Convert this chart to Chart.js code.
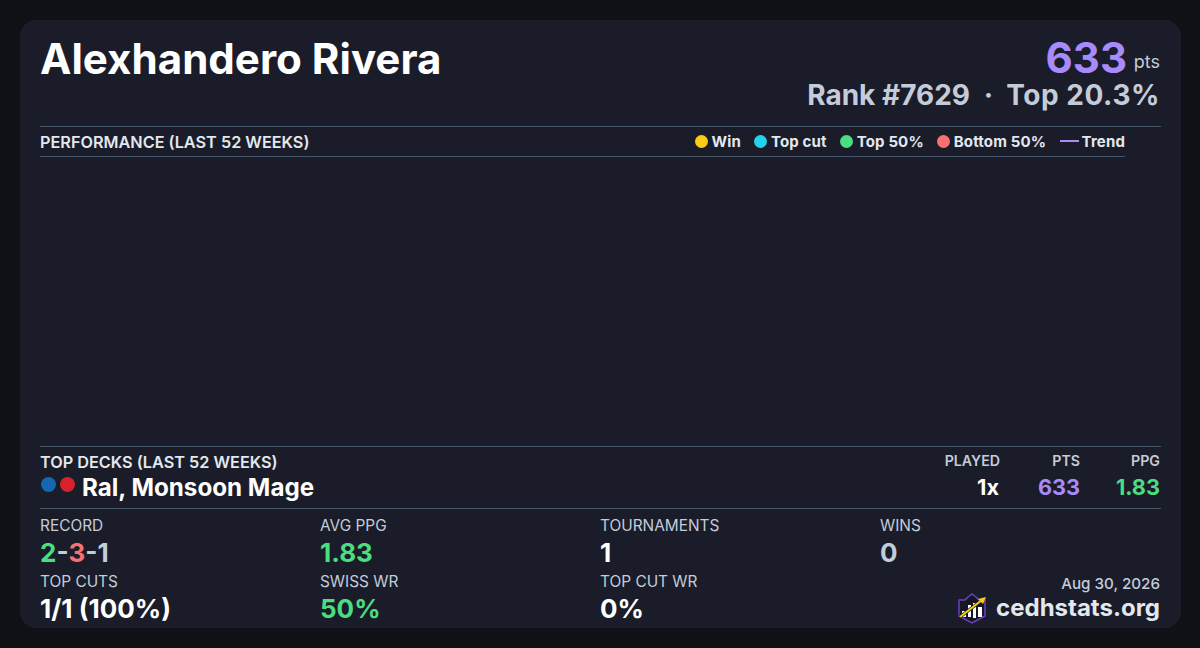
<!DOCTYPE html>
<html>
<head>
<meta charset="utf-8">
<script src="https://cdn.jsdelivr.net/npm/chart.js@4"></script>
<style>
html, body { margin: 0; padding: 0; }
body { width: 1200px; height: 648px; background: #0f1117; font-family: Inter, sans-serif; overflow: hidden; position: relative; }
#card { position: absolute; left: 20px; top: 20px; width: 1161px; height: 608px; background: #1a1d29; border-radius: 16px; }
.t { position: absolute; white-space: nowrap; line-height: 1; }
.rule { position: absolute; height: 1px; background: #475569; left: 40px; width: 1121px; }
#chartBox { position: absolute; left: 40px; top: 156px; width: 1085px; height: 290px; }
#legend { position: absolute; right: 75px; top: 133px; height: 16px; display: flex; align-items: center; font-size: 15px; font-weight: 700; letter-spacing: 0.15px; color: #e2e8f0; }
#legend .item { display: flex; align-items: center; margin-left: 13.5px; }
#legend .dot { width: 13px; height: 13px; border-radius: 50%; margin-right: 3.5px; }
#legend .dash { width: 19px; height: 2px; margin-right: 3px; }
.lab { font-size: 15.4px; font-weight: 400; color: #c4ccda; }
.val { font-size: 26px; font-weight: 700; color: #fff; }
</style>
</head>
<body>
<div id="card"></div>
<div class="t" id="name" style="left:40px;top:38px;font-size:42.1px;font-weight:700;color:#fff">Alexhandero Rivera</div>
<div class="t" style="right:73px;top:37px;font-size:42px;font-weight:700;color:#a78bfa">633</div>
<div class="t" style="right:40px;top:53px;font-size:18px;font-weight:400;color:#c4ccda">pts</div>
<div class="t" style="right:230px;top:81px;font-size:28px;font-weight:700;color:#c4ccda">Rank #7629</div>
<div class="t" style="right:207px;top:81px;font-size:28px;font-weight:700;color:#c4ccda">·</div>
<div class="t" style="right:40px;top:81px;font-size:28px;font-weight:700;letter-spacing:0.55px;color:#c4ccda">Top 20.3%</div>

<div class="rule" style="top:126px"></div>
<div class="t" style="left:40px;top:134px;font-size:16.25px;font-weight:600;color:#e2e8f0">PERFORMANCE (LAST 52 WEEKS)</div>
<div id="legend"></div>
<div id="chartBox"><canvas id="perfChart"></canvas></div>

<div class="rule" style="top:446px"></div>
<div class="t" style="left:40px;top:454px;font-size:16.25px;font-weight:600;color:#e2e8f0">TOP DECKS (LAST 52 WEEKS)</div>
<div style="position:absolute;left:41px;top:477px;width:15px;height:15px;border-radius:50%;background:#1568b0"></div>
<div style="position:absolute;left:60px;top:477px;width:15px;height:15px;border-radius:50%;background:#d7222c"></div>
<div class="t" style="left:82px;top:476px;font-size:24.2px;font-weight:700;color:#fff">Ral, Monsoon Mage</div>
<div class="t" style="right:200px;top:454px;font-size:14.2px;font-weight:600;color:#c4ccda">PLAYED</div>
<div class="t" style="right:120px;top:454px;font-size:14.2px;font-weight:600;color:#c4ccda">PTS</div>
<div class="t" style="right:40px;top:454px;font-size:14.2px;font-weight:600;color:#c4ccda">PPG</div>
<div class="t" style="right:201px;top:477px;font-size:21.7px;font-weight:700;color:#fff">1x</div>
<div class="t" style="right:120px;top:477px;font-size:21.7px;font-weight:700;color:#a78bfa">633</div>
<div class="t" style="right:40px;top:477px;font-size:21.7px;font-weight:700;color:#4ade80">1.83</div>
<div class="rule" style="top:508px"></div>

<div id="stats"></div>

<div class="t" style="right:40px;top:576px;font-size:15.2px;font-weight:500;color:#c4ccda">Aug 30, 2026</div>
<svg style="position:absolute;left:957px;top:593px" width="30" height="32" viewBox="0 0 30 32">
  <path d="M2 7 L8 7 L11 4 L15 1 L19 4 L22 7 L28 7 L28 23 L15 30 L2 23 Z" fill="#151722" stroke="#6d3fc4" stroke-width="1.5"/>
  <rect x="5" y="18" width="4" height="6" fill="#fff"/>
  <rect x="11" y="12" width="3" height="12" fill="#fff"/>
  <rect x="16" y="10" width="3" height="15" fill="#fff"/>
  <rect x="21" y="14" width="4" height="10" fill="#fff"/>
  <path d="M3 24 L25 7" stroke="#151722" stroke-width="3.4"/>
  <path d="M3 24 L25 7" stroke="#facc15" stroke-width="2"/>
  <path d="M29 4 L21 6 L26 11 Z" fill="#facc15"/>
</svg>
<div class="t" style="right:40px;top:596px;font-size:24px;font-weight:700;color:#e2e8f0">cedhstats.org</div>

<script>
// the player has no dated results in the window, the plot stays empty
const weeks = [];
const winPoints = [];
const topCutPoints = [];
const top50Points = [];
const bottom50Points = [];
const trendValues = [];

const statLabels = ['RECORD', 'AVG PPG', 'TOURNAMENTS', 'WINS', 'TOP CUTS', 'SWISS WR', 'TOP CUT WR'];
const statValues = ['2-3-1', '1.83', '1', '0', '1/1 (100%)', '50%', '0%'];

// stats grid
const statsEl = document.getElementById('stats');
statLabels.forEach(function(label, i) {
    const x = 40 + (i % 4) * 280;
    const y = i < 4 ? 518 : 574;
    let html = statValues[i];
    let color = '#fff';
    if (label === 'RECORD') {
        html = '<span style="color:#4ade80">2</span><span style="color:#c4ccda">-</span><span style="color:#f87171">3</span><span style="color:#c4ccda">-1</span>';
    }
    if (label === 'AVG PPG' || label === 'SWISS WR') color = '#4ade80';
    if (label === 'WINS') color = '#c4ccda';
    statsEl.insertAdjacentHTML('beforeend',
        '<div class="t lab" style="left:' + x + 'px;top:' + y + 'px">' + label + '</div>' +
        '<div class="t val" style="left:' + x + 'px;top:' + (y + 22) + 'px;color:' + color + '">' + html + '</div>');
});

// legend built from the chart's own datasets
const htmlLegend = {
    id: 'htmlLegend',
    afterUpdate: function(chart) {
        const box = document.getElementById('legend');
        box.innerHTML = '';
        chart.data.datasets.forEach(function(ds) {
            const mark = ds.type === 'line' ? 'dash' : 'dot';
            box.insertAdjacentHTML('beforeend',
                '<div class="item"><span class="' + mark + '" style="background:' + ds.borderColor + '"></span>' + ds.label + '</div>');
        });
    }
};

new Chart(document.getElementById('perfChart'), {
    type: 'scatter',
    data: {
        labels: weeks,
        datasets: [
            { label: 'Win', data: winPoints, backgroundColor: '#facc15', borderColor: '#facc15' },
            { label: 'Top cut', data: topCutPoints, backgroundColor: '#22d3ee', borderColor: '#22d3ee' },
            { label: 'Top 50%', data: top50Points, backgroundColor: '#4ade80', borderColor: '#4ade80' },
            { label: 'Bottom 50%', data: bottom50Points, backgroundColor: '#f87171', borderColor: '#f87171' },
            { type: 'line', label: 'Trend', data: trendValues, borderColor: '#a78bfa', borderWidth: 2, pointRadius: 0 }
        ]
    },
    options: {
        responsive: true,
        maintainAspectRatio: false,
        animation: false,
        layout: { padding: 0 },
        plugins: { legend: { display: false }, tooltip: { enabled: false } },
        scales: {
            x: {
                position: 'top',
                grid: { display: false },
                border: { display: true, color: '#475569', width: 1 },
                ticks: { display: false },
                afterFit: function(scale) { scale.height = 0; }
            },
            y: { display: false }
        }
    },
    plugins: [htmlLegend]
});
</script>
</body>
</html>
